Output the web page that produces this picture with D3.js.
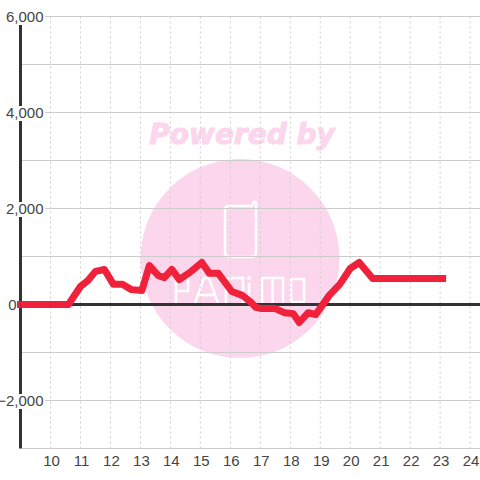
<!DOCTYPE html>
<html>
<head>
<meta charset="utf-8">
<script src="https://cdnjs.cloudflare.com/ajax/libs/d3/7.8.5/d3.min.js"></script>
<style>
  html, body { margin: 0; padding: 0; background: #fff; }
  svg { display: block; }
  text { font-family: "Liberation Sans", sans-serif; fill: #444; font-size: 15px; }
  .grid-y { stroke: #ccc; stroke-width: 1; }
  .grid-x { stroke: #ccc; stroke-width: 1; stroke-dasharray: 2 3; }
</style>
</head>
<body>
<div id="chart"></div>
<script>
var hours = [9, 10.6, 11, 11.25, 11.5, 11.8, 12.1, 12.4, 12.7, 13.05, 13.3, 13.6, 13.8, 14.05, 14.3, 14.65, 15.05, 15.3, 15.6, 16.05, 16.4, 16.7, 16.85, 17.05, 17.5, 17.8, 18.1, 18.3, 18.6, 18.85, 19.3, 19.65, 20, 20.3, 20.75, 23.2];
var values = [0, 0, 375, 500, 690, 730, 420, 420, 310, 290, 810, 600, 560, 730, 520, 670, 875, 650, 650, 270, 190, 40, -60, -85, -85, -170, -190, -375, -170, -210, 190, 420, 750, 875, 540, 540];
var xTicks = [10, 11, 12, 13, 14, 15, 16, 17, 18, 19, 20, 21, 22, 23, 24];
var yTicks = [-3000, -2000, -1000, 0, 1000, 2000, 3000, 4000, 5000, 6000];
var yLabels = [-2000, 2000, 4000, 6000];

var width = 480, height = 480;

var xScale = d3.scaleLinear().domain([9, 24.33]).range([20.5, 480]);
var yScale = d3.scaleLinear().domain([-3000, 6000]).range([448.5, 16.5]);

var svg = d3.select('#chart').append('svg')
    .attr('width', width)
    .attr('height', height);

// watermark
var mark = svg.append('g').attr('class', 'watermark');
mark.append('circle')
    .attr('cx', 240).attr('cy', 258.5).attr('r', 99.5)
    .attr('fill', '#fcd6ec');
mark.append('text')
    .attr('x', 242).attr('y', 144)
    .attr('text-anchor', 'middle')
    .style('font-family', '"DejaVu Sans"')
    .style('font-weight', 'bold')
    .style('font-style', 'italic')
    .style('font-size', '28px')
    .style('fill', '#fcd6ec')
    .style('stroke', '#fcd6ec')
    .style('stroke-width', 1)
    .text('Powered by');
mark.append('path')
    .attr('d', 'M229 206H251Q253 206 253 203Q254.500 200 256 203V252Q256 257 251 257H230Q225 257 225 252V210Q225 206 229 206Z')
    .attr('fill', 'none')
    .attr('stroke', '#fff')
    .attr('stroke-width', 2.5);
// PANiMO logo lettering
mark.append('path')
    .attr('d', 'M176 303V278H188V291H176 M195 303L204 278H209L218 303 M198 295H215 M226 303V278H243V303 M249 283V303 M262 303V278H283V303 M272.500 278V303 M291 279H304V302H291Z')
    .attr('fill', 'none')
    .attr('stroke', '#fff')
    .attr('stroke-width', 2.5);
mark.append('circle')
    .attr('cx', 249).attr('cy', 278).attr('r', 2)
    .attr('fill', '#fff');

// grid
svg.append('g').selectAll('line')
    .data(yTicks)
    .enter().append('line')
    .attr('class', 'grid-y')
    .attr('x1', 22)
    .attr('x2', width)
    .attr('y1', function (d) { return yScale(d); })
    .attr('y2', function (d) { return yScale(d); });

svg.append('g').selectAll('line')
    .data(xTicks)
    .enter().append('line')
    .attr('class', 'grid-x')
    .attr('x1', function (d) { return xScale(d); })
    .attr('x2', function (d) { return xScale(d); })
    .attr('y1', yScale(6000))
    .attr('y2', yScale(-3000));

// axes lines
svg.append('line')
    .attr('x1', 20.5).attr('x2', 20.5)
    .attr('y1', yScale(6000)).attr('y2', yScale(-3000))
    .attr('stroke', '#333').attr('stroke-width', 3);
svg.append('line')
    .attr('x1', 20).attr('x2', width)
    .attr('y1', yScale(0)).attr('y2', yScale(0))
    .attr('stroke', '#333').attr('stroke-width', 3);

// white boxes behind the y labels break the axis and the grid
svg.append('g').selectAll('rect')
    .data(yLabels)
    .enter().append('rect')
    .attr('x', 0)
    .attr('y', function (d) { return yScale(d) - 6.5; })
    .attr('width', 45)
    .attr('height', 15)
    .attr('fill', '#fff');
svg.append('rect')
    .attr('x', 0)
    .attr('y', 0)
    .attr('width', 45)
    .attr('height', yScale(6000) + 7.5)
    .attr('fill', '#fff');
svg.append('rect')
    .attr('x', 0)
    .attr('y', yScale(0) - 6.5)
    .attr('width', 17)
    .attr('height', 15)
    .attr('fill', '#fff');

// series
var line = d3.line()
    .x(function (d, i) { return xScale(hours[i]); })
    .y(function (d) { return yScale(d); });

svg.append('path')
    .datum(values)
    .attr('d', line)
    .attr('fill', 'none')
    .attr('stroke', '#f0213a')
    .attr('stroke-width', 7)
    .attr('stroke-linejoin', 'round');

// red line starts just right of the zero label
svg.append('line')
    .attr('x1', 17).attr('x2', xScale(9))
    .attr('y1', yScale(0)).attr('y2', yScale(0))
    .attr('stroke', '#f0213a')
    .attr('stroke-width', 7);

// tick labels
svg.append('g').selectAll('text')
    .data(yLabels)
    .enter().append('text')
    .attr('x', 43.5)
    .attr('y', function (d) { return yScale(d) + 5.5; })
    .attr('text-anchor', 'end')
    .text(function (d) { return d3.format(',')(d); });
svg.append('text')
    .attr('x', 16.5)
    .attr('y', yScale(0) + 5.5)
    .attr('text-anchor', 'end')
    .text('0');

svg.append('g').selectAll('text')
    .data(xTicks)
    .enter().append('text')
    .attr('x', function (d) { return xScale(d) + 1; })
    .attr('y', 466)
    .attr('text-anchor', 'middle')
    .text(function (d) { return d; });
</script>
</body>
</html>
